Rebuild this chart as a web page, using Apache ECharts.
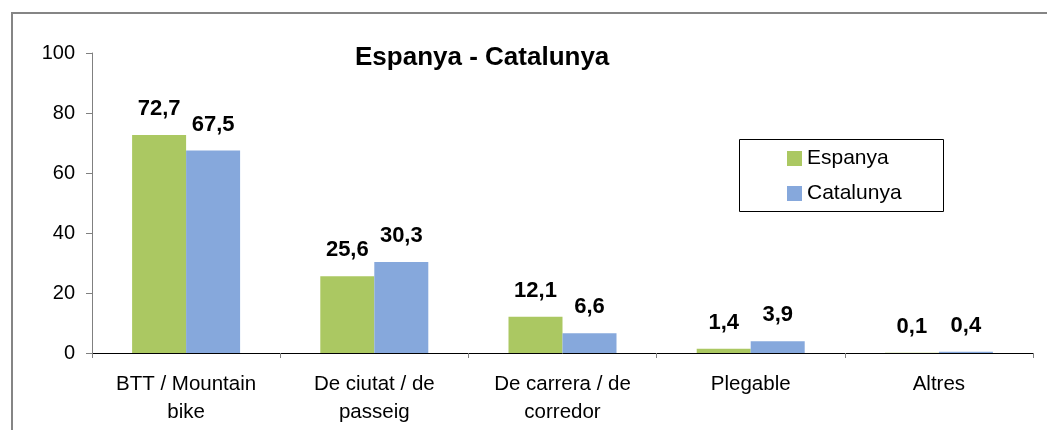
<!DOCTYPE html>
<html>
<head>
<meta charset="utf-8">
<script src="https://cdn.jsdelivr.net/npm/echarts@6/dist/echarts.min.js"></script>
<style>
html, body { margin: 0; padding: 0; background: #fff; }
#chart1 { width: 1047px; height: 430px; }
</style>
</head>
<body>
<div id="chart1"></div>
<script>
var categories = ['BTT / Mountain\nbike', 'De ciutat / de\npasseig', 'De carrera / de\ncorredor', 'Plegable', 'Altres'];
var espanya = [72.7, 25.6, 12.1, 1.4, 0.1];
var catalunya = [67.5, 30.3, 6.6, 3.9, 0.4];
var yTicks = [0, 20, 40, 60, 80, 100];

var myChart = echarts.init(document.getElementById('chart1'));

var font = 'Liberation Sans, Arial, sans-serif';

function labelFmt(p) {
    return String(p.value).replace('.', ',');
}

option = {
    animation: false,
    textStyle: { fontFamily: font },
    title: {
        text: 'Espanya - Catalunya',
        left: 355,
        top: 45,
        padding: 0,
        textStyle: {
            color: '#000',
            fontSize: 26,
            fontWeight: 'bold',
            fontFamily: font
        }
    },
    graphic: [
        { // outer frame
            type: 'rect',
            shape: { x: 12, y: 13, width: 1045, height: 430 },
            style: { fill: 'none', stroke: '#858585', lineWidth: 2 },
            silent: true
        },
        { // legend box
            type: 'rect',
            shape: { x: 739.5, y: 139.5, width: 204, height: 72 },
            style: { fill: '#fff', stroke: '#000', lineWidth: 1 },
            z: 1,
            silent: true
        }
    ],
    legend: {
        orient: 'vertical',
        left: 787,
        top: 148,
        padding: 0,
        icon: 'rect',
        itemWidth: 15,
        itemHeight: 15,
        itemGap: 14,
        z: 5,
        textStyle: { fontSize: 21, color: '#000', fontFamily: font },
        data: ['Espanya', 'Catalunya']
    },
    grid: {
        left: 92,
        right: 14,
        top: 53,
        bottom: 77,
        containLabel: false
    },
    xAxis: {
        type: 'category',
        data: categories,
        axisLine: { show: true, lineStyle: { color: '#000', width: 1 } },
        axisTick: { show: true, length: 5, lineStyle: { color: '#808080' } },
        axisLabel: {
            color: '#000',
            fontSize: 20.5,
            lineHeight: 28,
            margin: 17,
            fontFamily: font
        }
    },
    yAxis: {
        type: 'value',
        min: 0,
        max: 100,
        interval: 20,
        axisLine: { show: true, lineStyle: { color: '#808080' } },
        axisTick: { show: true, length: 6, lineStyle: { color: '#808080' } },
        splitLine: { show: false },
        axisLabel: {
            color: '#000',
            fontSize: 20,
            margin: 17,
            fontFamily: font,
            formatter: function (v) { return yTicks.indexOf(v) >= 0 ? v : ''; }
        }
    },
    series: [
        {
            name: 'Espanya',
            type: 'bar',
            data: espanya,
            barWidth: 54,
            barGap: '0%',
            itemStyle: { color: '#abc862' },
            label: {
                show: true,
                position: 'top',
                distance: 15,
                formatter: labelFmt,
                color: '#000',
                fontSize: 22,
                fontWeight: 'bold',
                fontFamily: font
            }
        },
        {
            name: 'Catalunya',
            type: 'bar',
            data: catalunya,
            barWidth: 54,
            itemStyle: { color: '#86a8dc' },
            label: {
                show: true,
                position: 'top',
                distance: 15,
                formatter: labelFmt,
                color: '#000',
                fontSize: 22,
                fontWeight: 'bold',
                fontFamily: font
            }
        }
    ]
};
myChart.setOption(option);
</script>
</body>
</html>
